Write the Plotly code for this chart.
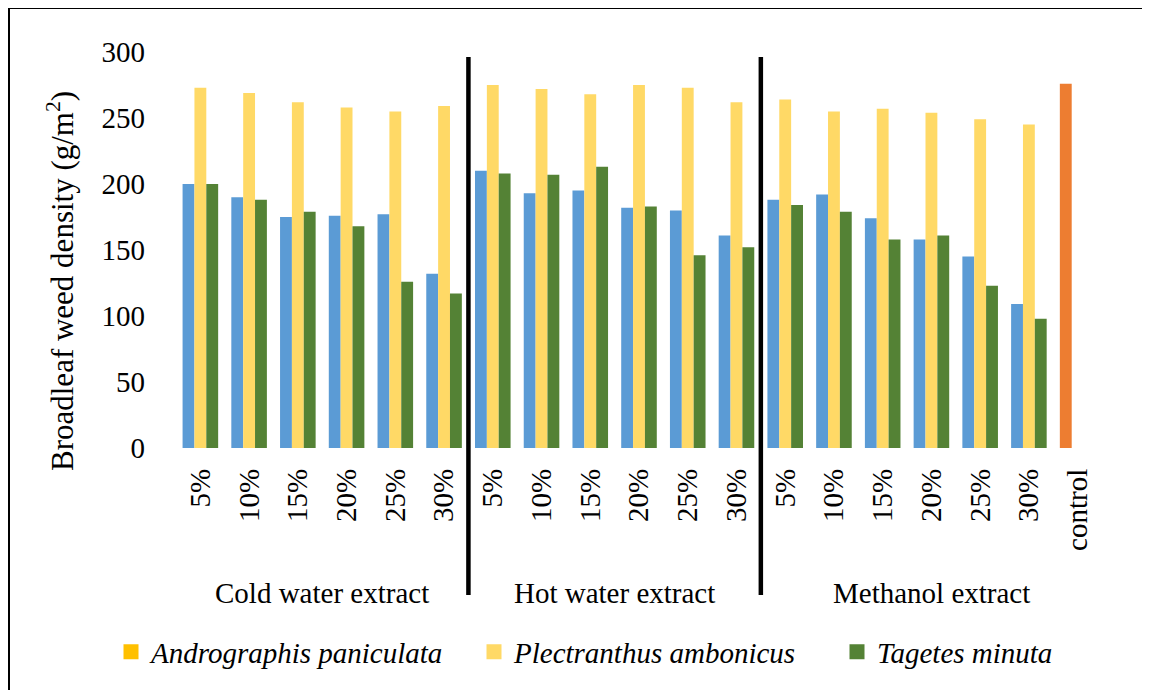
import plotly.graph_objects as go

# ---------------- data ----------------
conc_labels = ["5%", "10%", "15%", "20%", "25%", "30%"]
tick_labels = conc_labels * 3 + ["control"]
groups = ["Cold water extract", "Hot water extract", "Methanol extract"]
series_names = ["Andrographis paniculata", "Plectranthus ambonicus", "Tagetes minuta"]

andrographis = [200, 190, 175, 176, 177, 132,
                210, 193, 195, 182, 180, 161,
                188, 192, 174, 158, 145, 109,
                276]  # last value = control
plectranthus = [273, 269, 262, 258, 255, 259,
                275, 272, 268, 275, 273, 262,
                264, 255, 257, 254, 249, 245,
                None]
tagetes = [200, 188, 179, 168, 126, 117,
           208, 207, 213, 183, 146, 152,
           184, 179, 158, 161, 123, 98,
           None]

bar_colors = ["#5B9BD5", "#FFD966", "#548235"]
control_color = "#ED7D31"
legend_colors = ["#FFC000", "#FFD966", "#548235"]

# ---------------- layout geometry ----------------
OFF = 8  # page body margin
W, H = 1142, 682
ML, MR, MT, MB = 168, 48, 44, 242
PW, PH = W - ML - MR, H - MT - MB


def px_x(page_px):
    return (page_px - OFF - ML) / PW


def px_y(page_py):
    return (H - MB - (page_py - OFF)) / PH


FONT = "Liberation Serif"
xs = list(range(len(tick_labels)))

fig = go.Figure()

a_colors = [bar_colors[0]] * (len(andrographis) - 1) + [control_color]
fig.add_trace(go.Bar(x=xs, y=andrographis, marker=dict(color=a_colors, line=dict(width=0)),
                     name=series_names[0], showlegend=False))
fig.add_trace(go.Bar(x=xs, y=plectranthus, marker=dict(color=bar_colors[1], line=dict(width=0)),
                     name=series_names[1], showlegend=False))
fig.add_trace(go.Bar(x=xs, y=tagetes, marker=dict(color=bar_colors[2], line=dict(width=0)),
                     name=series_names[2], showlegend=False))

# legend entries
for name, col in zip(series_names, legend_colors):
    fig.add_trace(go.Scatter(x=[None], y=[None], mode="markers",
                             marker=dict(symbol="square", size=15, color=col),
                             name=name, showlegend=True))

annotations = []
# group labels
group_centers = [2.5, 8.5, 15]
for g, c in zip(groups, group_centers):
    annotations.append(dict(x=c, y=px_y(593), xref="x", yref="paper", text=g,
                            showarrow=False, font=dict(family=FONT, size=29, color="black"),
                            xanchor="center", yanchor="middle"))
# y axis title
annotations.append(dict(x=px_x(60), y=px_y(281), xref="paper", yref="paper",
                        text="Broadleaf weed density (g/m<sup>2</sup>)", textangle=-90,
                        showarrow=False, font=dict(family=FONT, size=31, color="black"),
                        xanchor="center", yanchor="middle"))

shapes = []
# separators
for sx in [5.5, 11.5]:
    shapes.append(dict(type="line", xref="x", yref="paper", x0=sx, x1=sx,
                       y0=px_y(57), y1=px_y(595), line=dict(color="black", width=4.5)))
# outer frame (left and top edges visible)
shapes.append(dict(type="line", xref="paper", yref="paper", x0=px_x(9), x1=px_x(9),
                   y0=px_y(7), y1=px_y(700), line=dict(color="black", width=2)))
shapes.append(dict(type="line", xref="paper", yref="paper", x0=px_x(8), x1=px_x(1160),
                   y0=px_y(8), y1=px_y(8), line=dict(color="black", width=2)))

fig.update_layout(
    width=W, height=H,
    margin=dict(l=ML, r=MR, t=MT, b=MB, autoexpand=False),
    paper_bgcolor="white", plot_bgcolor="white",
    barmode="group", bargap=0.27, bargroupgap=0,
    font=dict(family=FONT, size=29, color="black"),
    xaxis=dict(tickmode="array", tickvals=xs, ticktext=tick_labels, tickangle=-90,
               range=[-0.5, len(xs) - 0.5], showgrid=False, zeroline=False,
               showline=False, ticks="", ticklabelstandoff=14,
               tickfont=dict(family=FONT, size=29, color="black")),
    yaxis=dict(range=[0, 300], tickvals=[0, 50, 100, 150, 200, 250, 300],
               showgrid=False, zeroline=False, showline=False, ticks="",
               ticklabelstandoff=30,
               tickfont=dict(family=FONT, size=29, color="black")),
    legend=dict(orientation="h", x=px_x(111), y=px_y(652), xanchor="left", yanchor="middle",
                font=dict(family=FONT, size=29, color="black", style="italic"),
                bgcolor="rgba(0,0,0,0)", entrywidth=318, entrywidthmode="pixels"),
    annotations=annotations,
    shapes=shapes,
)

fig.write_html("out.html")
